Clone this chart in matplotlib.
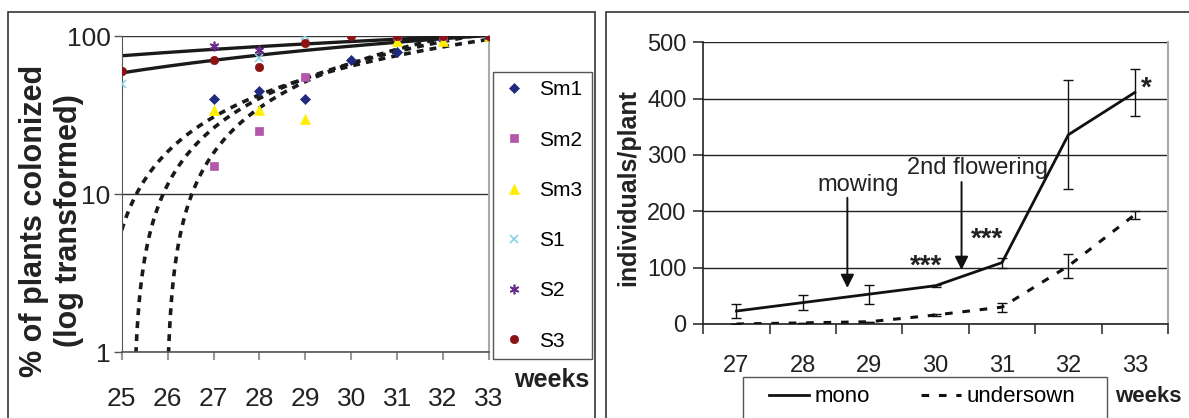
import numpy as np
import matplotlib
matplotlib.use("Agg")
import matplotlib.pyplot as plt
from matplotlib.patches import Rectangle
from matplotlib.lines import Line2D

plt.rcParams['font.family'] = ['Liberation Sans', 'DejaVu Sans']

# ---------------- left panel data ----------------
weeks_left = [25, 26, 27, 28, 29, 30, 31, 32, 33]
nan = np.nan
sm1 = [nan, nan, 40, 45, 40, 70, 79, 95, 100]
sm2 = [nan, nan, 15, 25, 55, nan, 100, 100, 100]
sm3 = [nan, nan, 34, 34, 30, nan, 93, 93, 100]
s1 = [50, nan, nan, 73, 100, nan, nan, nan, 100]
s2 = [nan, nan, 87, 82, nan, nan, nan, nan, 100]
s3 = [60, nan, 70, 64, 90, 100, 100, 100, 100]
series_names = ["Sm1", "Sm2", "Sm3", "S1", "S2", "S3"]
series_vals = [sm1, sm2, sm3, s1, s2, s3]
series_colors = ["#1f2a80", "#b456aa", "#ffee00", "#86d4e6", "#6a2c8c", "#8a1414"]
series_markers = ["D", "s", "^", "x", (6, 2, 0), "o"]
series_ms = [5.5, 5.5, 7, 6, 7, 6]

# logarithmic trend lines y = a*ln(week) + b, given as slope a and value at week 25
trend_slope = [95, 153, 322, 389, 465]
trend_at25 = [75, 58.4, 5.9, -3.8, -17.6]
trend_style = ["solid", "solid", "dashed", "dashed", "dashed"]

# ---------------- right panel data ----------------
weeks_right = [27, 28, 29, 30, 31, 32, 33]
mono = [23, 38, 53, 68, 109, 336, 411]
mono_err = [12, 13, 17, 2, 9, 97, 42]
under = [0, 2, 4, 16, 30, 103, 194]
under_err = [0, 0, 0, 2, 8, 22, 7]

W, H = 1189, 418
fig = plt.figure(figsize=(W / 100, H / 100), dpi=100)


def fx(px):
    return px / W


def fy(py):
    return 1 - py / H


# panel borders
fig.patches.append(Rectangle((fx(7.7), fy(430)), fx(595) - fx(7.7), fy(12) - fy(430),
                             transform=fig.transFigure, fill=False, ec="#333333", lw=1.2))
fig.patches.append(Rectangle((fx(605.7), fy(430)), fx(1200) - fx(605.7), fy(12) - fy(430),
                             transform=fig.transFigure, fill=False, ec="#333333", lw=1.2))

# ================= LEFT =================
ax1 = fig.add_axes([fx(121.7), fy(352), fx(489) - fx(121.7), fy(36) - fy(352)])
ax1.set_yscale("log")
ax1.set_xlim(25, 33)
ax1.set_ylim(1, 100)

wgrid = np.linspace(25, 33, 600)
for a, y25, st in zip(trend_slope, trend_at25, trend_style):
    yv = a * np.log(wgrid / 25.0) + y25
    yv = np.where(yv > 0, yv, np.nan)
    if st == "solid":
        ax1.plot(wgrid, yv, color="#1a1a1a", lw=2.4, solid_capstyle="butt", zorder=2)
    else:
        ax1.plot(wgrid, yv, color="#1a1a1a", lw=2.6, linestyle=(0, (1.9, 1.7)), zorder=2)

for name, vals, c, m, ms in zip(series_names, series_vals, series_colors, series_markers, series_ms):
    ax1.plot(weeks_left, vals, linestyle="none", marker=m, color=c, ms=ms,
             mew=1.2 if m in ("x", (6, 2, 0)) else 0.5, label=name, zorder=3)

ax1.set_yticks([1, 10, 100])
ax1.set_yticklabels(["1", "10", "100"])
ax1.yaxis.set_minor_locator(matplotlib.ticker.NullLocator())
ax1.set_xticks(weeks_left)
ax1.set_xticklabels([str(w) for w in weeks_left])
ax1.tick_params(axis="y", labelsize=19, length=6, width=1.0, color="#555555", pad=2)
ax1.tick_params(axis="x", labelsize=19, length=6, width=1.5, color="#999999", pad=19)
for t in ax1.get_xticklabels() + ax1.get_yticklabels():
    t.set_color("#222222")
ax1.grid(axis="y", which="major", color="#333333", lw=1.0)
ax1.spines["top"].set_visible(False)
ax1.spines["right"].set_color("#aaaaaa")
ax1.spines["right"].set_linewidth(1.5)
ax1.spines["left"].set_color("#555555")
ax1.spines["bottom"].set_color("#555555")
ax1.spines["bottom"].set_linewidth(1.2)

leg1 = ax1.legend(loc="upper left", bbox_to_anchor=(fx(493), fy(361), fx(592) - fx(493), fy(72) - fy(361)),
                  bbox_transform=fig.transFigure, mode="expand", fontsize=15, numpoints=1,
                  handlelength=1.2, handletextpad=0.6, borderpad=0.4, labelspacing=1.5,
                  borderaxespad=0, fancybox=False, edgecolor="#555555", framealpha=1)
leg1.get_frame().set_linewidth(1.0)

fig.text(fx(34), fy(221), "% of plants colonized", rotation=90, ha="center", va="center",
         fontsize=22, fontweight="bold", color="#222222")
fig.text(fx(69), fy(221), "(log transformed)", rotation=90, ha="center", va="center",
         fontsize=22, fontweight="bold", color="#222222")
fig.text(fx(552), fy(380), "weeks", ha="center", va="center", fontsize=18,
         fontweight="bold", color="#222222")

# ================= RIGHT =================
ax2 = fig.add_axes([fx(703.3), fy(324), fx(1168) - fx(703.3), fy(42.3) - fy(324)])
ax2.set_xlim(26.5, 33.5)
ax2.set_ylim(0, 500)

ax2.errorbar(weeks_right, mono, yerr=mono_err, color="#111111", lw=2.0, elinewidth=1.0,
             capsize=3.5, capthick=1.0, label="mono", zorder=3)
ax2.errorbar(weeks_right, under, yerr=under_err, color="#111111", lw=2.2, elinewidth=1.0,
             capsize=3.5, capthick=1.0, linestyle=(0, (2.5, 3.2)), label="undersown", zorder=3)

ax2.set_yticks([0, 100, 200, 300, 400, 500])
ax2.set_xticks(np.arange(26.5, 33.6, 1.0))
ax2.set_xticklabels([])
ax2.set_xticks(weeks_right, minor=True)
ax2.set_xticklabels([str(w) for w in weeks_right], minor=True)
ax2.tick_params(axis="x", which="major", length=7, width=1.2, color="#333333")
ax2.tick_params(axis="x", which="minor", length=0, labelsize=17, pad=22)
ax2.tick_params(axis="y", labelsize=17, length=7, width=1.2, color="#333333", pad=5)
for t in ax2.get_xticklabels(minor=True) + ax2.get_yticklabels():
    t.set_color("#222222")
ax2.grid(axis="y", color="#222222", lw=1.0)
ax2.spines["top"].set_visible(False)
ax2.spines["right"].set_color("#aaaaaa")
ax2.spines["right"].set_linewidth(1.5)
ax2.spines["left"].set_color("#222222")
ax2.spines["bottom"].set_color("#222222")
ax2.spines["left"].set_linewidth(1.2)
ax2.spines["bottom"].set_linewidth(1.2)

arrow_kw = dict(arrowstyle="-|>", color="#111111", lw=1.4, mutation_scale=20, shrinkA=0, shrinkB=0)
ax2.annotate("", xy=(28.67, 64), xytext=(28.67, 224), arrowprops=arrow_kw)
ax2.annotate("", xy=(30.39, 96), xytext=(30.39, 252), arrowprops=arrow_kw)
ax2.text(28.84, 247, "mowing", ha="center", va="center", fontsize=17, color="#222222")
ax2.text(30.63, 277, "2nd flowering", ha="center", va="center", fontsize=17, color="#222222")
ax2.text(29.86, 89, "***", ha="center", va="baseline", fontsize=20, fontweight="bold", color="#222222")
ax2.text(30.77, 138, "***", ha="center", va="baseline", fontsize=20, fontweight="bold", color="#222222")
ax2.text(33.18, 405, "*", ha="center", va="baseline", fontsize=20, fontweight="bold", color="#222222")

fig.text(fx(628), fy(188), "individuals/plant", rotation=90, ha="center", va="center",
         fontsize=18, fontweight="bold", color="#222222")

fig.patches.append(Rectangle((fx(743), fy(430)), fx(1107) - fx(743), fy(377) - fy(430),
                             transform=fig.transFigure, fill=False, ec="#555555", lw=1.0))
h_mono = Line2D([], [], color="#111111", lw=2.0)
h_under = Line2D([], [], color="#111111", lw=2.2, linestyle=(0, (2.5, 3.2)))
leg2 = fig.legend([h_mono, h_under], ["mono", "undersown"], loc="center left",
                  bbox_to_anchor=(fx(769), fy(397)), ncol=2, frameon=False, fontsize=16,
                  handlelength=1.8, handletextpad=0.25, columnspacing=2.3,
                  borderpad=0, borderaxespad=0)
fig.text(fx(1148), fy(397), "weeks", ha="center", va="center", fontsize=16,
         fontweight="bold", color="#222222")

fig.savefig("out.png", dpi=100)
